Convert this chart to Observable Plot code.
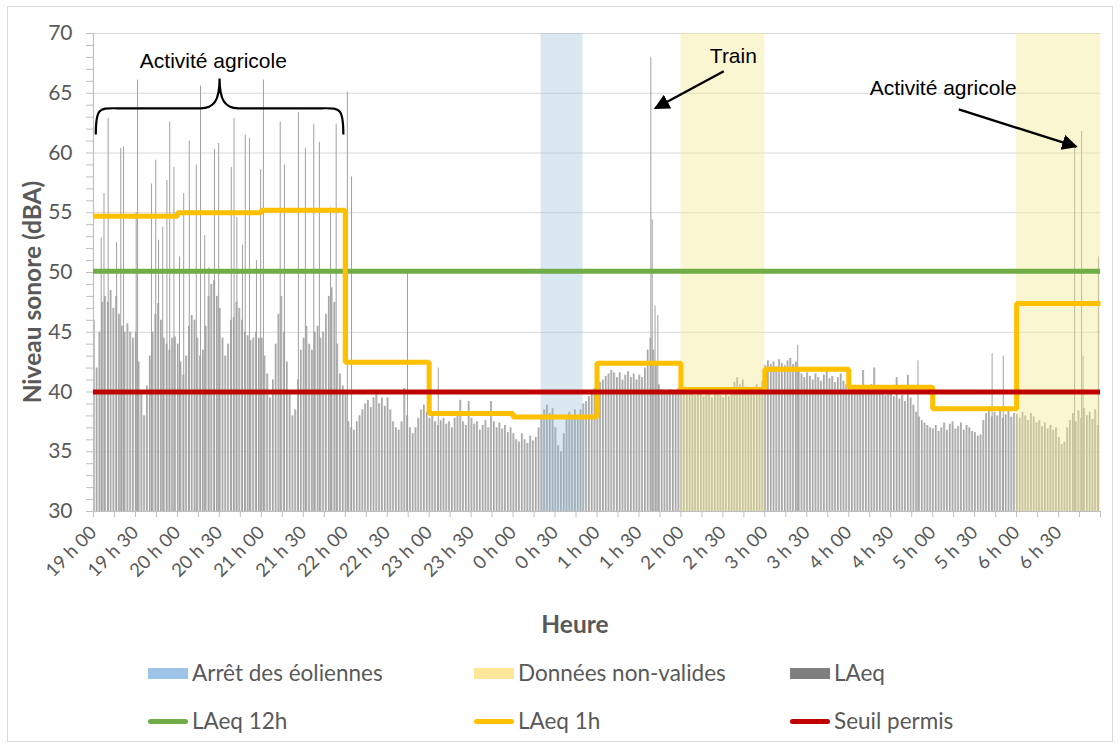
<!DOCTYPE html>
<html lang="fr">
<head>
<meta charset="utf-8">
<title>Niveau sonore – nuit de mesure</title>
<script src="https://cdn.jsdelivr.net/npm/d3@7"></script>
<script src="https://cdn.jsdelivr.net/npm/@observablehq/plot@0.6"></script>
<style>
  html, body { margin: 0; padding: 0; background: #fff; }
  #cadre { position: relative; width: 1120px; height: 744px; overflow: hidden; font-family: Lato, "Noto Sans", sans-serif; }
  #bordure { position: absolute; left: 7px; top: 6px; width: 1106px; height: 736px; box-sizing: border-box; border: 1px solid #d9d9d9; pointer-events: none; }
  #graphique svg { display: block; }
  .item { position: absolute; display: flex; align-items: center; font-size: 22.5px; color: #595959; white-space: nowrap; line-height: 1; }
  .pastille { display: inline-block; width: 40px; height: 11px; margin-right: 4px; }
  .trait { display: inline-block; width: 40px; height: 5px; border-radius: 3px; margin-right: 4px; }
</style>
</head>
<body>
<div id="cadre">
  <div id="graphique"></div>
  <div id="legende"></div>
  <div id="bordure"></div>
</div>
<script>
// Étiquettes de l'axe horizontal (une toutes les 30 minutes, à partir de 19 h 00)
const etiquettesHeures = ["19 h 00","19 h 30","20 h 00","20 h 30","21 h 00","21 h 30","22 h 00","22 h 30",
  "23 h 00","23 h 30","0 h 00","0 h 30","1 h 00","1 h 30","2 h 00","2 h 30","3 h 00","3 h 30",
  "4 h 00","4 h 30","5 h 00","5 h 30","6 h 00","6 h 30"];

// LAeq par pas de 2 minutes (dBA), de 19 h 00 à 7 h 00
const laeq2min = [
  46, 42, 45, 47.5, 48, 47.5, 48.5, 47, 48, 46.5, 45.5, 45, 45.7, 45, 44.5,
  45, 42.5, 40, 38, 40.5, 43, 45, 46.5, 47.4, 46, 44.5, 44, 43.5, 44.5, 44.6,
  44, 42.5, 41.4, 43, 45.5, 46.4, 46, 44.5, 43, 43.5, 45.5, 48, 49, 49.3, 48,
  47, 44.5, 43, 44, 46, 46.2, 47.5, 47, 46, 45, 44.7, 44.3, 44.5, 45, 44.5,
  44.5, 43, 41.5, 39.5, 41, 44, 46.5, 48, 45, 42.5, 40, 38, 38.5, 41, 43.5,
  44.5, 45.5, 44, 43.5, 45, 45.5, 44.5, 45, 46.5, 48, 48.7, 47.5, 44, 41.5, 40.5,
  40, 37.5, 37, 36.8, 37.5, 38, 38.5, 39, 39.3, 38.7, 39.5, 39.8, 39, 39.5, 38.8,
  39.5, 38.5, 37.5, 37, 36.8, 37.5, 40.3, 38, 37, 36.5, 37, 37.8, 38.5, 38.9, 38.3,
  37.8, 38, 37.5, 37.2, 37.6, 37.8, 37.3, 37.5, 37, 37.8, 38.3, 39.3, 37.5, 37.2, 39.2,
  37.8, 37.3, 37.5, 36.8, 37.2, 37.6, 37, 39.2, 37.5, 37, 37.4, 36.9, 37.2, 36.6, 37,
  36.5, 36, 35.8, 36.5, 36, 35.7, 36.3, 35.9, 36.2, 37, 38, 38.5, 38.9, 38.2, 38.6,
  37, 35.5, 35, 36.5, 37.8, 38.3, 37.9, 38.5, 38, 38.5, 39, 39.2, 39.6, 39.8, 40.3,
  40.5, 40.8, 41, 41.3, 41.5, 41.8, 41.6, 41.2, 41.6, 41, 41.4, 41.7, 41.2, 41.5, 41,
  41.4, 41.2, 42, 43.5, 44.5, 43.5, 42.5, 40.6, 40.2, 40, 39.8, 40.2, 39.9, 40.1, 40.3,
  40.2, 40, 39.8, 40.1, 40.3, 39.7, 39.9, 40.2, 39.6, 39.8, 40, 39.5, 39.8, 40.1, 39.7,
  39.5, 39.9, 39.6, 40.3, 40.8, 41.2, 40.6, 41, 40.4, 39.8, 40.2, 39.9, 40.6, 40.3, 40.9,
  42.2, 42.6, 42.3, 42.5, 42.1, 42.7, 42.4, 42.2, 42.6, 42.8, 42.3, 42.5, 41.8, 41.5, 41.2,
  41.6, 41.3, 41, 41.5, 41.2, 40.9, 41.4, 41.7, 41.1, 41.3, 40.8, 41.2, 41.5, 40.9, 40.6,
  40.5, 40.2, 40.4, 40, 40.3, 41.8, 40.1, 40.3, 40.6, 42, 40.2, 39.9, 40.1, 39.7, 40,
  39.8, 39.6, 41.2, 39.4, 39.7, 39.2, 41.4, 39.5, 38.9, 38.3, 37.9, 37.6, 37.4, 37.2, 37,
  36.9, 37.2, 36.7, 37, 37.4, 36.8, 37.3, 37.5, 36.9, 37.1, 37.4, 36.8, 37.2, 37, 36.7,
  36.6, 36.3, 36.4, 37.6, 38.2, 38.5, 37.9, 38.3, 38, 38.4, 37.8, 38.1, 38.5, 37.9, 38.2,
  38.1, 37.8, 38.3, 38, 37.6, 38.2, 37.9, 37.4, 37.6, 37.1, 37.4, 36.9, 37.2, 36.8, 37,
  36.2, 35.6, 35.8, 37, 37.6, 38.2, 37.5, 38.4, 37.8, 38.6, 38, 38.3, 37.7, 38.5, 37.2
];

// Pointes brèves de LAeq (minute depuis 19 h 00, niveau en dBA)
const pointesMinute = [5, 7, 10, 16, 19, 21, 30, 31, 41, 44, 46, 49, 52, 54, 57, 61, 64, 68, 73, 76,
  79, 82, 86, 89, 98, 100, 102, 106, 108, 111, 116, 119, 121, 133, 136, 146, 151, 157, 161, 169,
  173, 181, 184, 224, 246, 398, 399, 401, 403, 503, 589, 642, 650, 701, 706, 707, 718];
const pointesNiveau = [52.9, 56.6, 62.9, 52.5, 60.4, 60.5, 55, 66.1, 57.4, 59.4, 52.7, 53.8, 57.7, 62.6, 58.8, 51.3, 56.6, 61, 59, 65.6,
  53.1, 50.4, 60.3, 60.8, 58.8, 62.9, 54.6, 52.3, 61.5, 61.2, 51, 58.6, 66.1, 62.6, 59, 63.4, 60.4, 62.4, 60.9, 55.4,
  62.4, 65.1, 58, 50, 42, 68, 54.4, 47.2, 46.4, 43.9, 42.6, 43.2, 43, 60.4, 61.8, 43, 51.3];

// LAeq horaire (dBA), de 19 h à 6 h
const laeq1h = [54.7, 55.0, 55.2, 42.5, 38.2, 37.9, 42.4, 40.2, 41.9, 40.4, 38.6, 47.4];
const laeq12h = 50.1;
const seuilPermis = 40;

// Périodes (minutes depuis 19 h 00)
const arretDebut = [320], arretFin = [350];
const invalideDebut = [420, 660], invalideFin = [480, 720];

// Annotations (position en minutes et en dBA)
const notesTexte = ["Activité agricole", "Train", "Activité agricole"];
const notesMinute = [85.7, 457.5, 607.5];
const notesNiveau = [67.7, 68.1, 65.45];
const flechesDe = [[451, 66.8], [619, 63.6]];
const flechesA = [[402, 63.7], [703, 60.5]];
const accolade = {debut: 2, fin: 179, pointe: 61.5, palier: 63.7, sommet: 66.2};

// Tables pour les marques
const barres = laeq2min.map((v, i) => ({debut: i * 2, fin: i * 2 + 2, niveau: v}));
const pointes = pointesMinute.map((m, i) => ({minute: m + 0.5, niveau: pointesNiveau[i]}));
const horaire = laeq1h.map((v, i) => ({minute: i * 60, niveau: v}))
  .concat([{minute: 720, niveau: laeq1h[laeq1h.length - 1]}]);
const arret = arretDebut.map((d, i) => ({debut: d, fin: arretFin[i]}));
const invalides = invalideDebut.map((d, i) => ({debut: d, fin: invalideFin[i]}));
const notes = notesTexte.map((t, i) => ({texte: t, minute: notesMinute[i], niveau: notesNiveau[i]}));

const gris = "#595959";
const plot = Plot.plot({
  width: 1120,
  height: 645,
  marginLeft: 93,
  marginRight: 20,
  marginTop: 33,
  marginBottom: 134,
  style: {fontFamily: "Lato, 'Noto Sans', sans-serif", background: "transparent", color: gris},
  x: {domain: [0, 720]},
  y: {domain: [30, 70]},
  marks: [
    Plot.gridY({ticks: d3.range(35, 71, 5), stroke: "#d9d9d9", strokeOpacity: 1, strokeWidth: 1.2}),
    Plot.rectY(barres, {x1: "debut", x2: "fin", y1: 30, y2: "niveau", fill: "#bdbdbd", insetRight: 0.9}),
    Plot.ruleX(barres, {x: "debut", y1: 30, y2: "niveau", stroke: "#9a9a9a", strokeWidth: 0.7}),
    Plot.ruleX(pointes, {x: "minute", y1: 30, y2: "niveau", stroke: "#a0a0a0", strokeWidth: 1}),
    Plot.rect(arret, {x1: "debut", x2: "fin", y1: 30, y2: 70, fill: "#8fb9d6", fillOpacity: 0.33}),
    Plot.rect(invalides, {x1: "debut", x2: "fin", y1: 30, y2: 70, fill: "#f5e98f", fillOpacity: 0.4}),
    Plot.ruleX([0], {stroke: "#bfbfbf", strokeWidth: 1.2}),
    Plot.ruleY([30], {stroke: "#bfbfbf", strokeWidth: 1.2}),
    Plot.axisY({ticks: d3.range(30, 71, 5), tickSize: 0, tickPadding: 21, fontSize: 21, fill: gris, label: null}),
    Plot.axisY({ticks: d3.range(30, 71, 1), tickSize: 7, tickFormat: () => "", stroke: "#bfbfbf", label: null}),
    Plot.axisX({ticks: d3.range(0, 721, 15), tickSize: 6, tickFormat: () => "", stroke: "#bfbfbf", label: null}),
    Plot.axisX({ticks: d3.range(0, 720, 30), tickSize: 0, tickPadding: 18, tickRotate: -45,
      tickFormat: (m) => etiquettesHeures[m / 30], fontSize: 18.5, fill: gris, label: null}),
    Plot.ruleY([laeq12h], {x1: 0, x2: 720, stroke: "#70ad47", strokeWidth: 5}),
    Plot.line(horaire, {x: "minute", y: "niveau", curve: "step-after", stroke: "#ffc000", strokeWidth: 5,
      strokeLinejoin: "miter", strokeLinecap: "butt"}),
    Plot.ruleY([seuilPermis], {x1: 0, x2: 720, stroke: "#c00000", strokeWidth: 5}),
    Plot.text(notes, {x: "minute", y: "niveau", text: "texte", fontFamily: "'Liberation Sans', Arial, sans-serif",
      fontSize: 21, fill: "#000"})
  ]
});

// Titres d'axes, accolade et flèches dessinés à partir des échelles du graphique
const sx = plot.scale("x"), sy = plot.scale("y");
const X = (m) => sx.apply(m), Y = (v) => sy.apply(v);
const svg = d3.select(plot);

svg.append("defs").append("marker")
  .attr("id", "pointe-fleche").attr("viewBox", "0 0 10 10").attr("refX", 9).attr("refY", 5)
  .attr("markerWidth", 6.5).attr("markerHeight", 6.5).attr("markerUnits", "strokeWidth").attr("orient", "auto")
  .append("path").attr("d", "M0,0 L10,5 L0,10 Z").attr("fill", "#000");

flechesDe.forEach((de, i) => {
  const a = flechesA[i];
  svg.append("line")
    .attr("x1", X(de[0])).attr("y1", Y(de[1])).attr("x2", X(a[0])).attr("y2", Y(a[1]))
    .attr("stroke", "#000").attr("stroke-width", 2.4).attr("marker-end", "url(#pointe-fleche)");
});

{
  const xl = X(accolade.debut), xr = X(accolade.fin), xc = (xl + xr) / 2;
  const yb = Y(accolade.pointe), ym = Y(accolade.palier), yt = Y(accolade.sommet);
  const d = `M${xl},${yb} C${xl},${ym - 2} ${xl + 4},${ym} ${xl + 22},${ym} L${xc - 19},${ym}`
    + ` C${xc - 6},${ym} ${xc},${ym - 7} ${xc},${yt}`
    + ` C${xc},${ym - 7} ${xc + 6},${ym} ${xc + 19},${ym} L${xr - 22},${ym}`
    + ` C${xr - 4},${ym} ${xr},${ym - 2} ${xr},${yb}`;
  svg.append("path").attr("d", d).attr("fill", "none").attr("stroke", "#000").attr("stroke-width", 2.2);
}

svg.append("text")
  .attr("transform", "translate(35,292) rotate(-90)")
  .attr("text-anchor", "middle").attr("dominant-baseline", "middle")
  .attr("font-family", "Lato, 'Noto Sans', sans-serif").attr("font-weight", "bold").attr("font-size", 24.5)
  .attr("fill", gris).text("Niveau sonore (dBA)");
svg.append("text")
  .attr("x", 575).attr("y", 627)
  .attr("text-anchor", "middle").attr("dominant-baseline", "middle")
  .attr("font-family", "Lato, 'Noto Sans', sans-serif").attr("font-weight", "bold").attr("font-size", 24.5)
  .attr("fill", gris).text("Heure");

document.getElementById("graphique").append(plot);

// Légende sous le graphique
const legendeItems = [
  {nom: "Arrêt des éoliennes", type: "pastille", couleur: "#9dc3e6", gauche: 148, haut: 673},
  {nom: "Données non-valides", type: "pastille", couleur: "#ffe699", gauche: 474, haut: 673},
  {nom: "LAeq", type: "pastille", couleur: "#7f7f7f", gauche: 790, haut: 673},
  {nom: "LAeq 12h", type: "trait", couleur: "#70ad47", gauche: 148, haut: 721},
  {nom: "LAeq 1h", type: "trait", couleur: "#ffc000", gauche: 474, haut: 721},
  {nom: "Seuil permis", type: "trait", couleur: "#c00000", gauche: 790, haut: 721}
];
const legende = d3.select("#legende");
legendeItems.forEach((it) => {
  const div = legende.append("div").attr("class", "item")
    .style("left", it.gauche + "px").style("top", (it.haut - 12) + "px").style("height", "24px");
  div.append("span").attr("class", it.type).style("background", it.couleur);
  div.append("span").text(it.nom);
});
</script>
</body>
</html>
